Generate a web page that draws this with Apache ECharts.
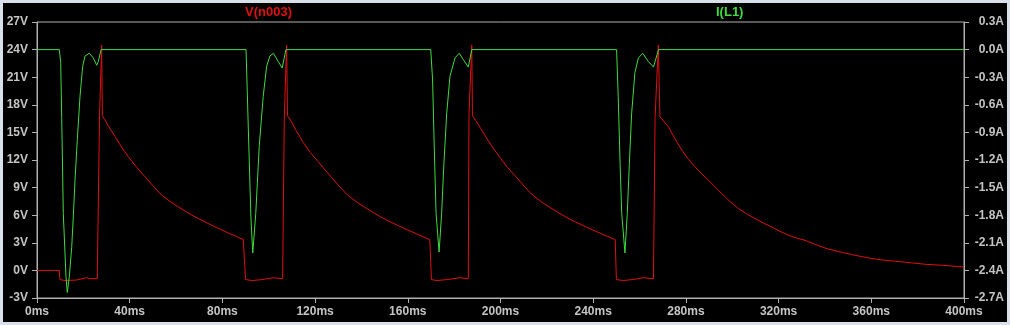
<!DOCTYPE html>
<html>
<head>
<meta charset="utf-8">
<script src="https://cdn.jsdelivr.net/npm/echarts@6/dist/echarts.min.js"></script>
<style>
html,body{margin:0;padding:0;background:#d9e0e9;width:1010px;height:325px;overflow:hidden;}
#c{position:absolute;left:3px;top:3px;width:1004px;height:319px;background:#000;}
</style>
</head>
<body>
<div id="c"></div>
<script>
// Tick labels / axis ranges
const xTicks = {min: 0, max: 400, step: 40, unit: 'ms'};
const vTicks = {min: -3, max: 27, step: 3, unit: 'V'};
const iTicks = {min: -2.7, max: 0.3, step: 0.3, unit: 'A'};
const seriesNames = ['V(n003)', 'I(L1)'];

// V(n003) : time (ms) and volts
const vTime = [0, 9.6, 9.9, 12.1, 17, 21.4, 22.9, 26.0, 27.0, 27.9, 28.2, 29.3, 31.5, 33.7, 36.5, 39.4, 43.0, 46.6, 50.2, 53.8, 57.4, 61.0, 64.6, 68.2, 71.8, 75.4, 79.0, 82.5, 86.0, 89.0, 89.8,
  90.0, 93.0, 97.0, 102.0, 106.0, 106.7, 107.7, 108.1, 109.5, 111.8, 114.9, 118.0, 121.4, 124.0, 126.8, 130.4, 134.0, 137.6, 141.2, 144.8, 148.4, 152.0, 155.6, 159.2, 162.7, 166.0, 169.5, 170.0,
  170.2, 172.5, 177.0, 182.5, 186.1, 186.4, 187.6, 187.9, 189.3, 191.5, 193.7, 196.5, 199.4, 203.0, 206.6, 210.2, 213.8, 217.4, 221.0, 224.6, 228.2, 231.8, 235.4, 239.0, 242.5, 246.0, 249.5, 249.8,
  250.0, 253.0, 257.0, 261.6, 266.0, 266.7, 268.1, 268.8, 272.4, 275.3, 278.2, 281.0, 283.9, 286.8, 289.7, 292.5, 295.4, 299.0, 302.6, 306.2, 309.8, 313.4, 317.0, 320.6, 324.2, 327.8, 331.4, 336.0, 340.8,
  344.4, 347.9, 351.5, 355.2, 358.8, 362.3, 369.5, 376.7, 383.9, 391.1, 400];
const vVolt = [0, 0, -1.0, -1.1, -1.05, -0.8, -0.9, -0.9, 16.9, 24.5, 16.8, 16.36, 15.4, 14.54, 13.4, 12.36, 11.2, 10.18, 9.15, 8.18, 7.5, 6.9, 6.33, 5.82, 5.35, 4.91, 4.48, 4.07, 3.7, 3.35, 3.3,
  -1.0, -1.1, -1.0, -0.8, -0.9, 16.5, 24.5, 16.8, 16.3, 15.2, 13.9, 12.8, 11.8, 11.0, 10.2, 9.15, 8.2, 7.5, 6.9, 6.33, 5.8, 5.33, 4.9, 4.48, 4.1, 3.72, 3.35, 3.3,
  -1.0, -1.1, -1.0, -0.8, -0.9, 16.9, 24.5, 16.8, 16.3, 15.4, 14.5, 13.4, 12.4, 11.2, 10.2, 9.15, 8.2, 7.5, 6.9, 6.33, 5.8, 5.33, 4.9, 4.48, 4.1, 3.72, 3.35, 3.3,
  -1.0, -1.1, -1.0, -0.8, -0.9, 16.6, 24.5, 16.7, 15.63, 14.3, 13.09, 12.1, 11.27, 10.5, 9.82, 9.1, 8.37, 7.5, 6.73, 6.15, 5.64, 5.15, 4.72, 4.25, 3.82, 3.52, 3.27, 2.8, 2.37,
  2.14, 1.93, 1.72, 1.53, 1.36, 1.2, 1.01, 0.84, 0.65, 0.55, 0.36];

// I(L1) : time (ms) and amps
const iTime = [0, 9.62, 10.23, 10.66, 11.35, 12.51, 13.07, 13.94, 14.97, 15.66, 16.40, 17.39, 18.55, 19.72, 20.71, 22.57, 24.29, 25.76, 26.45, 27.62,
  90.2, 91.2, 92.3, 93.1, 94.4, 95.9, 97.6, 99.1, 100.5, 102.0, 104.1, 105.8, 107.4,
  169.9, 170.7, 171.4, 172.2, 173.5, 174.6, 175.6, 176.8, 178.2, 180.4, 182.2, 184.0, 186.1, 187.6,
  250.1, 250.8, 251.6, 252.3, 253.7, 254.7, 255.6, 256.6, 258.0, 259.5, 261.4, 263.8, 266.0, 268.2, 400];
const iAmp = [0, 0, -0.14, -0.74, -1.78, -2.47, -2.64, -2.47, -2.15, -1.82, -1.42, -0.98, -0.51, -0.18, -0.07, -0.04, -0.09, -0.17, -0.13, 0,
  0, -0.87, -1.82, -2.21, -1.78, -1.05, -0.51, -0.18, -0.07, -0.04, -0.13, -0.20, 0,
  0, -0.33, -1.05, -1.78, -2.20, -1.78, -1.23, -0.69, -0.29, -0.09, -0.04, -0.11, -0.19, 0,
  0, -0.51, -1.24, -1.78, -2.21, -1.78, -1.24, -0.69, -0.25, -0.09, -0.04, -0.13, -0.19, 0, 0];

const vData = vTime.map((t, k) => [t, vVolt[k]]);
const iData = iTime.map((t, k) => [t, iAmp[k]]);

const RED = '#e01010', GREEN = '#3edc3e', AXIS = '#b0b0b0', TXT = '#c4c4c4';
const FONT = '"Liberation Sans", Arial, sans-serif';
const lbl = {color: TXT, fontFamily: FONT, fontWeight: 'bold', fontSize: 12};

const chart = echarts.init(document.getElementById('c'), null, {renderer: 'canvas'});
chart.setOption({
  animation: false,
  backgroundColor: '#000',
  grid: {left: 34, right: 43, top: 19, bottom: 24, show: true, borderColor: AXIS, borderWidth: 1},
  graphic: [
    {type: 'text', left: 265 - 23, top: 3, style: {text: seriesNames[0], fill: RED, font: 'bold 13px ' + FONT}},
    {type: 'text', left: 728 - 15, top: 3, style: {text: seriesNames[1], fill: GREEN, font: 'bold 13px ' + FONT}}
  ],
  xAxis: {
    type: 'value', min: xTicks.min, max: xTicks.max, interval: xTicks.step,
    axisLine: {show: true, onZero: false, lineStyle: {color: AXIS}},
    axisTick: {show: true, length: 5, lineStyle: {color: AXIS}},
    splitLine: {show: false},
    axisLabel: Object.assign({margin: 8, formatter: v => v + xTicks.unit}, lbl)
  },
  yAxis: [
    {
      type: 'value', position: 'left', min: vTicks.min, max: vTicks.max, interval: vTicks.step,
      axisLine: {show: true, onZero: false, lineStyle: {color: AXIS}},
      axisTick: {show: true, length: 5, lineStyle: {color: AXIS}},
      splitLine: {show: false},
      axisLabel: Object.assign({margin: 9, formatter: v => Math.round(v) + vTicks.unit}, lbl)
    },
    {
      type: 'value', position: 'right', min: iTicks.min, max: iTicks.max, interval: iTicks.step,
      axisLine: {show: true, onZero: false, lineStyle: {color: AXIS}},
      axisTick: {show: true, length: 5, lineStyle: {color: AXIS}},
      splitLine: {show: false},
      axisLabel: Object.assign({margin: 40, align: 'right', formatter: v => (Math.abs(v) < 1e-9 ? 0 : v).toFixed(1) + iTicks.unit}, lbl)
    }
  ],
  series: [
    {name: seriesNames[0], type: 'line', yAxisIndex: 0, data: vData, showSymbol: false, symbol: 'none',
     lineStyle: {color: RED, width: 1}, itemStyle: {color: RED}},
    {name: seriesNames[1], type: 'line', yAxisIndex: 1, data: iData, showSymbol: false, symbol: 'none',
     lineStyle: {color: GREEN, width: 1}, itemStyle: {color: GREEN}}
  ]
});
</script>
</body>
</html>
